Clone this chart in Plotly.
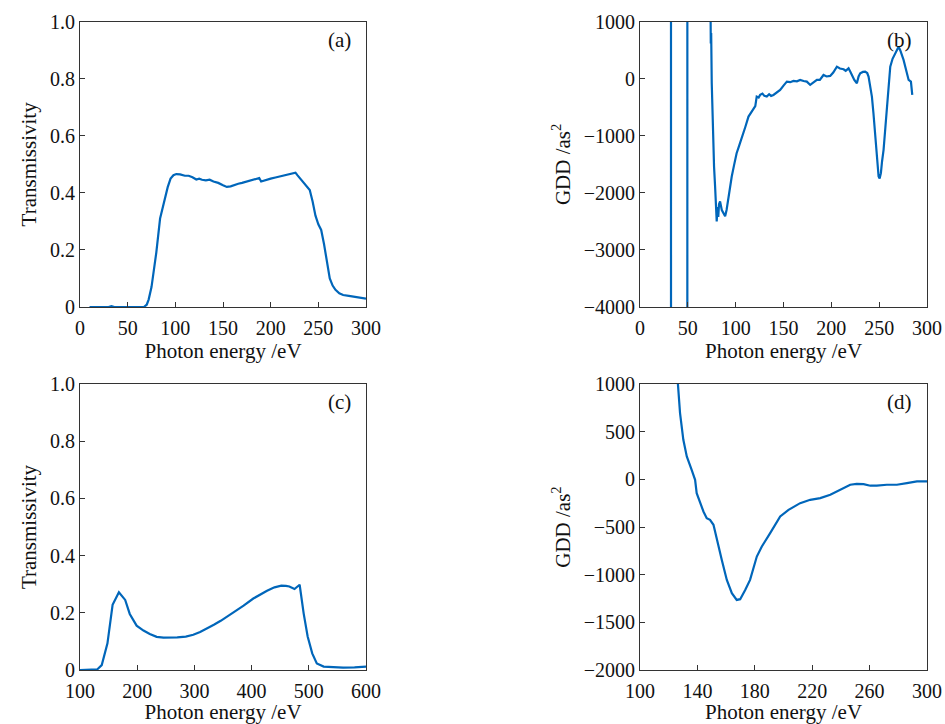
import plotly.graph_objects as go
from plotly.subplots import make_subplots

# ---------------- data ----------------
# (a) transmissivity, panel 1
a_x = [10, 25, 30, 33, 36, 45, 60, 67, 70, 72, 75, 77, 80, 84, 88, 92, 95, 98, 101, 105, 110, 114, 118,
       122, 125, 128, 132, 136, 140, 145, 150, 154, 158, 162, 166, 170, 175, 180, 185, 188, 190, 194,
       200, 205, 210, 215, 220, 224, 226, 228, 231, 234, 238, 241, 244, 247, 250, 253, 256, 259, 262,
       265, 268, 272, 276, 282, 290, 300]
a_y = [0.0, 0.0, 0.0, 0.003, 0.0, 0.0, 0.0, 0.0, 0.008, 0.026, 0.07, 0.12, 0.19, 0.31, 0.37, 0.42,
       0.45, 0.462, 0.466, 0.465, 0.46, 0.46, 0.455, 0.447, 0.45, 0.446, 0.444, 0.446, 0.44, 0.435,
       0.427, 0.421, 0.423, 0.428, 0.432, 0.435, 0.44, 0.444, 0.448, 0.452, 0.44, 0.443, 0.45, 0.454,
       0.458, 0.462, 0.465, 0.469, 0.471, 0.462, 0.45, 0.44, 0.425, 0.41, 0.37, 0.32, 0.29, 0.27,
       0.22, 0.16, 0.1, 0.075, 0.06, 0.048, 0.042, 0.039, 0.035, 0.029]

# (b) GDD, panel 1 (values beyond the axis range diverge)
b_x = [20, 32.2, 32.6, 40, 49.3, 49.7, 60, 73.0, 73.6, 74.0, 74.4, 75.0, 75.5, 76.0, 76.7, 77.4, 78.5,
       79.5, 80.2, 81.0, 81.8, 82.6, 83.7, 85.5, 87.2, 89.0, 90.5, 92.4, 94.0, 95.9, 98.5, 101.0,
       103.5, 106.4, 110.0, 113.4, 116.0, 118.6, 120.5, 122.0, 124.0, 125.6, 128.0, 130.0, 132.5,
       135.0, 137.0, 139.5, 142.0, 144.0, 146.5, 150.0, 153.5, 157.0, 160.4, 164.0, 167.4, 171.0,
       174.4, 177.9, 181.0, 184.9, 188.0, 191.8, 195.0, 198.8, 202.0, 205.8, 209.0, 212.8, 215.0,
       218.0, 220.0, 221.5, 224.0, 226.7, 228.5, 230.2, 233.0, 235.4, 237.5, 238.9, 240.5, 242.4,
       244.0, 245.9, 247.5, 249.4, 250.5, 251.8, 253.0, 254.6, 256.5, 258.1, 260.0, 261.6, 264.0,
       266.8, 268.5, 270.3, 272.0, 273.8, 275.5, 277.3, 279.0, 280.8, 283.2, 284.6]
b_y = [60000, 60000, -60000, -60000, -60000, 60000, 60000, 3000, 1000, 620, 800, -80, -490, -300,
       -1130, -1540, -1890, -2355, -2500, -2250, -2420, -2200, -2150, -2300, -2355, -2410, -2300,
       -2063, -1900, -1713, -1500, -1305, -1180, -1013, -850, -663, -600, -546, -480, -313, -330,
       -283, -260, -300, -313, -270, -300, -283, -250, -230, -196, -120, -50, -60, -38, -45, -20,
       -40, -50, -108, -70, -21, -20, 66, 40, 49, 110, 212, 180, 166, 140, 183, 120, 66, -20, -79,
       40, 96, 120, 125, 100, 37, -100, -313, -600, -954, -1350, -1713, -1750, -1655, -1450, -1246,
       -850, -488, -100, 212, 350, 446, 530, 562, 500, 417, 330, 212, 100, -21, -50, -283]

# (c) transmissivity, panel 2
c_x = [100, 110, 120, 130, 138, 148, 157, 168, 179, 187, 199, 211, 222, 234, 246, 258, 270, 285,
       298, 310, 322, 334, 346, 358, 370, 386, 403, 415, 427, 440, 452, 460, 466, 475, 484, 491, 498,
       506, 514, 526, 543, 560, 580, 600]
c_y = [0.0, 0.0, 0.0, 0.002, 0.017, 0.093, 0.228, 0.272, 0.245, 0.196, 0.155, 0.138, 0.126, 0.116,
       0.113, 0.113, 0.114, 0.117, 0.123, 0.133, 0.145, 0.158, 0.172, 0.187, 0.203, 0.225, 0.250,
       0.264, 0.277, 0.289, 0.295, 0.294, 0.292, 0.283, 0.298, 0.198, 0.117, 0.058, 0.023, 0.012,
       0.009, 0.008, 0.009, 0.012]

# (d) GDD, panel 2
d_x = [124, 126.7, 127.9, 130.2, 132.6, 136.0, 138.4, 139.5, 141.9, 144.2, 146.5, 148.8, 151.2,
       153.5, 157.0, 160.5, 164.0, 167.4, 169.8, 173.3, 176.7, 181.4, 184.9, 190.7, 197.7, 203.5,
       211.6, 218.6, 225.6, 232.6, 239.5, 246.5, 251.0, 255.8, 260.5, 265.0, 272.0, 279.0, 286.0,
       293.0, 300.0]
d_y = [1500, 1000, 695, 415, 240, 100, -5, -145, -250, -337, -407, -425, -477, -635, -845, -1055,
       -1195, -1265, -1257, -1160, -1055, -810, -705, -565, -390, -320, -250, -215, -197, -162,
       -110, -57, -47, -50, -67, -67, -57, -57, -40, -22, -22]

# tick labels
trans_ticks = [0, 0.2, 0.4, 0.6, 0.8, 1.0]
trans_ticktext = ["0", "0.2", "0.4", "0.6", "0.8", "1.0"]
b_yticks = [-4000, -3000, -2000, -1000, 0, 1000]
b_yticktext = ["\u22124000", "\u22123000", "\u22122000", "\u22121000", "0", "1000"]
d_yticks = [-2000, -1500, -1000, -500, 0, 500, 1000]
d_yticktext = ["\u22122000", "\u22121500", "\u22121000", "\u2212500", "0", "500", "1000"]
a_xticks = [0, 50, 100, 150, 200, 250, 300]
c_xticks = [100, 200, 300, 400, 500, 600]
d_xticks = [100, 140, 180, 220, 260, 300]
panel_labels = ["(a)", "(b)", "(c)", "(d)"]

# ---------------- figure ----------------
W, H = 945, 724
LINE = "rgb(0,102,186)"
FONT = "Liberation Serif"
FS = 21
TFS = 20
TXT = "#111111"

fig = make_subplots(rows=2, cols=2)
fig.add_trace(go.Scatter(x=a_x, y=a_y, mode="lines", line=dict(color=LINE, width=2.2)), row=1, col=1)
fig.add_trace(go.Scatter(x=b_x, y=b_y, mode="lines", line=dict(color=LINE, width=2.2)), row=1, col=2)
fig.add_trace(go.Scatter(x=c_x, y=c_y, mode="lines", line=dict(color=LINE, width=2.2)), row=2, col=1)
fig.add_trace(go.Scatter(x=d_x, y=d_y, mode="lines", line=dict(color=LINE, width=2.2)), row=2, col=2)

def px_x(p):
    return p / W

def px_y(p):
    return 1 - p / H

xdom_left = [px_x(80), px_x(366)]
xdom_right = [px_x(640), px_x(927)]
ydom_top = [px_y(307), px_y(21.7)]
ydom_bot = [px_y(670), px_y(384)]

axis_common = dict(showline=True, linecolor="#333333", linewidth=1, mirror=True,
                   ticks="inside", ticklen=5, tickcolor="#333333", showgrid=False,
                   zeroline=False, automargin=False,
                   tickfont=dict(family=FONT, size=TFS, color=TXT))

xtitle = dict(text="Photon energy /eV", font=dict(family=FONT, size=FS, color=TXT), standoff=4)

def ytitle(t):
    return dict(text=t, font=dict(family=FONT, size=FS, color=TXT), standoff=7)

xextra = dict(ticklabelstandoff=3)

fig.update_layout(
    xaxis=dict(domain=xdom_left, range=[0, 300], tickvals=a_xticks, title=xtitle, **xextra, **axis_common),
    yaxis=dict(domain=ydom_top, range=[0, 1], tickvals=trans_ticks, ticktext=trans_ticktext,
               title=ytitle("Transmissivity"), **axis_common),
    xaxis2=dict(domain=xdom_right, range=[0, 300], tickvals=a_xticks, title=xtitle, **xextra, **axis_common),
    yaxis2=dict(domain=ydom_top, range=[-4000, 1000], tickvals=b_yticks, ticktext=b_yticktext,
                title=ytitle("GDD /as<sup>2</sup>"), **axis_common),
    xaxis3=dict(domain=xdom_left, range=[100, 600], tickvals=c_xticks, title=xtitle, **xextra, **axis_common),
    yaxis3=dict(domain=ydom_bot, range=[0, 1], tickvals=trans_ticks, ticktext=trans_ticktext,
                title=ytitle("Transmissivity"), **axis_common),
    xaxis4=dict(domain=xdom_right, range=[100, 300], tickvals=d_xticks, title=xtitle, **xextra, **axis_common),
    yaxis4=dict(domain=ydom_bot, range=[-2000, 1000], tickvals=d_yticks, ticktext=d_yticktext,
                title=ytitle("GDD /as<sup>2</sup>"), **axis_common),
    width=W, height=H,
    margin=dict(l=0, r=0, t=0, b=0, autoexpand=False),
    paper_bgcolor="white", plot_bgcolor="white",
    showlegend=False,
    font=dict(family=FONT, size=FS, color=TXT),
)

refs = [("x domain", "y domain"), ("x2 domain", "y2 domain"), ("x3 domain", "y3 domain"), ("x4 domain", "y4 domain")]
for lab, (xr, yr) in zip(panel_labels, refs):
    fig.add_annotation(text=lab, xref=xr, yref=yr, x=0.955, y=0.985, xanchor="right", yanchor="top",
                       showarrow=False, font=dict(family=FONT, size=FS, color=TXT))

fig.write_html("out.html")
